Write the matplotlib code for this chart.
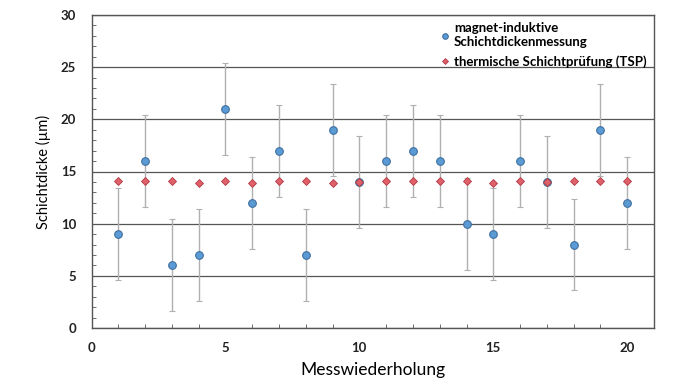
import numpy as np
import matplotlib.pyplot as plt
from matplotlib.lines import Line2D
from matplotlib.ticker import MultipleLocator

# Messwiederholung 1..20
messung = list(range(1, 21))

# magnet-induktive Schichtdickenmessung (Mittelwert und Fehlerbalken)
mi_werte = [9, 16, 6, 7, 21, 12, 17, 7, 19, 14, 16, 17, 16, 10, 9, 16, 14, 8, 19, 12]
mi_fehler = [4.4] * 20

# thermische Schichtprüfung (TSP)
tsp_werte = [14.1, 14.1, 14.1, 13.9, 14.1, 13.9, 14.1, 14.1, 13.9, 14.0,
             14.1, 14.1, 14.1, 14.1, 13.9, 14.1, 14.0, 14.1, 14.1, 14.1]

plt.rcParams['font.family'] = ['Lato', 'DejaVu Sans']

fig = plt.figure(figsize=(6.84, 3.82), dpi=100)
ax = fig.add_axes([91.5 / 684, 1 - 328 / 382, (654 - 91.5) / 684, (328 - 15) / 382])

blau = dict(mfc='#5b9bd5', mec='#3f6f9e', mew=0.8)
rot = dict(mfc='#e0606a', mec='#b03a44', mew=0.6)

ax.errorbar(messung, mi_werte, yerr=mi_fehler, fmt='o', ms=5.5, **blau,
            ecolor='#b0b0b0', elinewidth=1.0, capsize=2.5, capthick=0.8, zorder=3)
ax.plot(messung, tsp_werte, 'D', ms=3.8, **rot, zorder=4)

ax.set_xlim(0, 21)
ax.set_ylim(0, 30)
ax.xaxis.set_major_locator(MultipleLocator(5))
ax.xaxis.set_minor_locator(MultipleLocator(1))
ax.yaxis.set_major_locator(MultipleLocator(5))
ax.yaxis.set_minor_locator(MultipleLocator(1))
ax.tick_params(which='both', direction='in', colors='#555555',
               labelcolor='#222222', labelsize=9.5)
ax.tick_params(which='major', length=0)
ax.tick_params(which='minor', length=3, width=0.6)
ax.tick_params(axis='x', pad=10)
ax.tick_params(axis='y', pad=11)
for lab in ax.get_xticklabels() + ax.get_yticklabels():
    lab.set_fontweight('bold')

ax.grid(axis='y', which='major', color='#555555', linewidth=0.9)
ax.set_axisbelow(True)
for sp in ax.spines.values():
    sp.set_color('#555555')
    sp.set_linewidth(1.0)

ax.set_xlabel('Messwiederholung', fontsize=12.5, labelpad=6)
ax.set_ylabel('Schichtdicke (µm)', fontsize=10.5, labelpad=7)

handles = [Line2D([], [], ls='', marker='o', ms=4, **blau),
           Line2D([], [], ls='', marker='D', ms=3, **rot)]
labels = ['magnet-induktive\nSchichtdickenmessung', 'thermische Schichtprüfung (TSP)']
ax.legend(handles, labels, loc='upper right', frameon=False,
          prop={'weight': 'bold', 'size': 9.5},
          handletextpad=0.2, handlelength=1.0,
          borderaxespad=0.15, labelspacing=0.5)

fig.savefig('out.png', dpi=100)
